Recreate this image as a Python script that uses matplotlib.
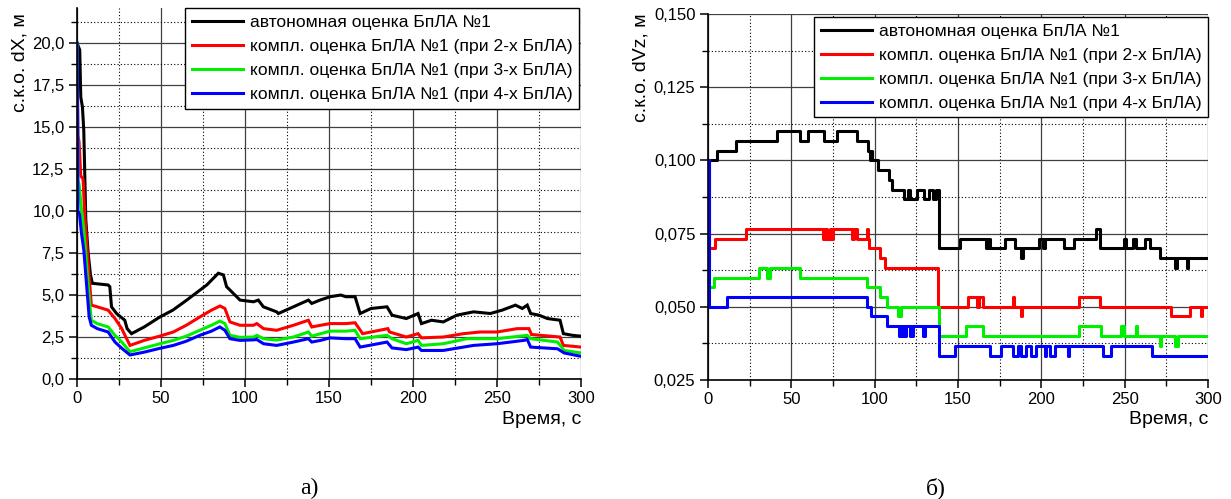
import matplotlib

matplotlib.use("Agg")
import matplotlib.pyplot as plt
from matplotlib.ticker import MultipleLocator, FuncFormatter

plt.rcParams["font.family"] = ["Liberation Sans", "DejaVu Sans"]

LABELS = [
    "автономная оценка БпЛА №1",
    "компл. оценка БпЛА №1 (при 2-х БпЛА)",
    "компл. оценка БпЛА №1 (при 3-х БпЛА)",
    "компл. оценка БпЛА №1 (при 4-х БпЛА)",
]
COLORS = ["#000000", "#ff0000", "#00ee00", "#0000ff"]

# --- panel a): с.к.о. dX (polylines read off the picture) --------------------
dx_black_t = [0, 1.6, 2.2, 3.2, 4.0, 5.2, 6.6, 8.0, 9.1, 18.5, 19.5, 20.5, 23.5, 28.4, 29.8,
              32.4, 40, 49.4, 57, 65.3, 77.2, 84.1, 87.1, 89, 93, 97, 105, 107.9, 110.9,
              118.8, 119.8, 128.8, 137.7, 139.7, 144.6, 150.6, 157, 160, 165.5, 168.5, 175,
              184.5, 187.5, 196, 203, 205, 211, 218, 226, 236, 246, 253, 261, 265, 268, 270,
              275, 280, 287.5, 289.5, 295, 300]
dx_black_v = [20.0, 19.6, 16.8, 16.2, 14.8, 9.5, 7.5, 6.2, 5.7, 5.6, 5.5, 4.3, 3.9, 3.5, 3.0,
              2.7, 3.1, 3.7, 4.1, 4.7, 5.6, 6.3, 6.2, 5.5, 5.1, 4.7, 4.6, 4.7, 4.3,
              4.0, 3.9, 4.3, 4.7, 4.5, 4.7, 4.9, 5.0, 4.9, 4.9, 3.9, 4.2,
              4.3, 3.8, 3.6, 3.9, 3.3, 3.5, 3.4, 3.8, 4.0, 3.9, 4.1, 4.4, 4.2, 4.4, 3.9,
              3.8, 3.6, 3.5, 2.7, 2.6, 2.55]

dx_red_t = [0, 0.6, 1.2, 2.2, 3.6, 4.6, 6.6, 8.5, 12, 18.5, 22.6, 26.6, 29, 31.5, 40, 49.4,
            57.3, 65, 73.2, 80, 85.1, 88, 91, 97, 105, 107, 111, 118.8, 128.8, 137.7, 139.7,
            145, 150.6, 160, 165.5, 170, 180, 185, 186, 196, 203, 205, 218, 230, 240, 250,
            262, 269, 270.5, 287.5, 289.5, 295, 300]
dx_red_v = [20, 14.5, 14.1, 12.1, 11.9, 9.7, 6.9, 4.4, 4.3, 4.1, 3.6, 3.0, 2.5, 2.0, 2.3, 2.56,
            2.8, 3.2, 3.7, 4.1, 4.35, 4.2, 3.4, 3.2, 3.2, 3.3, 3.0, 2.9, 3.2, 3.5, 3.1,
            3.2, 3.3, 3.3, 3.35, 2.7, 2.9, 3.0, 2.8, 2.5, 2.7, 2.45, 2.5, 2.7, 2.8, 2.8,
            3.0, 3.0, 2.65, 2.5, 2.0, 1.95, 1.9]

dx_green_t = [0, 0.6, 1.2, 2.6, 4, 5.6, 7.2, 8.5, 12, 18.5, 22.6, 26.6, 31.5, 40, 49.4, 57.3,
              65, 73, 80, 85, 88, 91, 97, 105, 107, 111, 118.8, 128.8, 137.7, 139.7, 145,
              150.6, 160, 165.5, 168.5, 184.5, 187.5, 196, 203, 205, 218, 232, 250, 268, 270,
              286, 290, 300]
dx_green_v = [20, 11.8, 11.6, 10.1, 8.9, 6.9, 4.9, 3.5, 3.3, 3.1, 2.6, 2.2, 1.63, 1.85, 2.1, 2.3,
              2.55, 2.9, 3.2, 3.45, 3.3, 2.6, 2.48, 2.5, 2.6, 2.4, 2.32, 2.5, 2.8, 2.55, 2.7,
              2.85, 2.85, 2.9, 2.4, 2.6, 2.4, 2.1, 2.3, 2.0, 2.1, 2.4, 2.4, 2.6, 2.4,
              2.2, 1.7, 1.55]

dx_blue_t = [0, 0.5, 1.5, 2.6, 4, 5.6, 7.2, 8.5, 12, 18.5, 22.6, 26.6, 31.5, 40, 49.4, 57.3,
             65, 73, 80, 85, 88, 91, 97, 105, 107, 111, 118.8, 128.8, 137.7, 139.7, 145,
             150.6, 160, 165.5, 168.5, 184.5, 187.5, 196, 203, 205, 218, 236, 250, 266, 268,
             270, 286, 290, 300]
dx_blue_v = [20, 10.0, 9.8, 8.7, 7.7, 5.7, 3.7, 3.2, 3.0, 2.8, 2.2, 1.83, 1.43, 1.6, 1.83, 2.0,
             2.25, 2.6, 2.85, 3.1, 2.9, 2.4, 2.3, 2.33, 2.35, 2.1, 2.0, 2.2, 2.4, 2.2, 2.3,
             2.45, 2.4, 2.4, 1.9, 2.2, 1.85, 1.75, 1.9, 1.7, 1.7, 2.0, 2.1, 2.3, 2.35,
             1.9, 1.8, 1.55, 1.35]

# --- panel б): с.к.о. dVz (step levels, value holds until next time) ---------
dvz_black_t = [0, 5.2, 16.8, 41.2, 55.2, 60.2, 69.6, 77.2, 89.2, 96.2, 97.0, 97.8, 98.6, 102.2,
               108.8, 110.2, 117.6, 120.0, 121.0, 125.2, 129.6, 132.4, 135.2, 137.0, 138.8,
               151.4, 167.0, 168.0, 169.0, 178.0, 184.0, 188.0, 188.8, 198.6, 201.0, 202.5,
               213.4, 219.4, 233.0, 235.4, 249.6, 251.0, 255.0, 257.0, 262.0, 265.0, 271.0,
               280.4, 281.2, 287.4, 288.2, 300]
dvz_black_v = [.1000, .1033, .1067, .1100, .1067, .1100, .1067, .1100, .1067, .1033, .1000,
               .1033, .1000, .0967, .0933, .0900, .0867, .0900, .0867, .0900, .0867, .0900,
               .0867, .0900, .0700, .0733, .0700, .0733, .0700, .0733, .0700, .0667, .0700,
               .0733, .0700, .0733, .0700, .0733, .0767, .0700, .0733, .0700, .0733, .0700,
               .0733, .0700, .0667, .0633, .0667, .0633, .0667, .0667]

dvz_red_t = [0, 0.4, 4.2, 22.8, 69.2, 70.5, 71.5, 73.0, 74.0, 75.2, 86.2, 87.6, 89.2, 95.2, 95.8,
             96.8, 103.2, 106.2, 138.2, 156.0, 161.4, 162.4, 165.0, 183.0, 183.6, 188.0, 188.6,
             222.6, 235.4, 277.6, 289.4, 296.0, 296.6, 300]
dvz_red_v = [.1000, .0700, .0733, .0767, .0733, .0767, .0733, .0767, .0733, .0767, .0733, .0767,
             .0733, .0767, .0733, .0700, .0667, .0633, .0500, .0533, .0500, .0533, .0500,
             .0533, .0500, .0467, .0500, .0533, .0500, .0467, .0500, .0467, .0500, .0500]

dvz_green_t = [0, 0.4, 3.6, 30.8, 35.2, 37.2, 55.2, 95.2, 103.2, 107.2, 114.2, 115.6, 138.8,
               154.6, 165.0, 222.6, 236.0, 247.6, 249.6, 256.6, 257.2, 271.0, 271.6, 280.0,
               282.0, 300]
dvz_green_v = [.1000, .0567, .0600, .0633, .0600, .0633, .0600, .0567, .0533, .0500, .0467,
               .0500, .0400, .0433, .0400, .0433, .0400, .0433, .0400, .0433, .0400, .0367,
               .0400, .0367, .0400, .0400]

dvz_blue_t = [0, 0.4, 11.2, 95.2, 97.6, 107.6, 114.8, 115.6, 116.4, 117.4, 118.0, 118.8, 121.2,
              122.0, 122.6, 123.2, 128.8, 130.2, 138.8, 148.0, 169.0, 176.0, 183.0, 186.0,
              188.0, 191.0, 194.0, 197.0, 202.0, 203.0, 205.4, 208.0, 216.0, 216.6, 237.0,
              242.0, 266.6, 300]
dvz_blue_v = [.1000, .0500, .0533, .0500, .0467, .0433, .0400, .0433, .0400, .0433, .0400,
              .0433, .0400, .0433, .0400, .0433, .0400, .0433, .0333, .0367, .0333, .0367,
              .0333, .0367, .0333, .0367, .0333, .0367, .0333, .0367, .0333, .0367, .0333,
              .0367, .0333, .0367, .0333, .0333]


def comma(fmt):
    return FuncFormatter(lambda v, _: (fmt % v).replace(".", ","))


def style_axes(ax, ymajor, yminor, yfmt):
    ax.set_xlim(0, 300)
    ax.xaxis.set_major_locator(MultipleLocator(50))
    ax.xaxis.set_minor_locator(MultipleLocator(25))
    ax.yaxis.set_major_locator(MultipleLocator(ymajor))
    ax.yaxis.set_minor_locator(MultipleLocator(yminor))
    ax.yaxis.set_major_formatter(comma(yfmt))
    ax.grid(which="major", color="#404040", lw=0.9, ls="-")
    ax.grid(which="minor", color="#000000", lw=0.8, ls=(0, (1, 2)))
    ax.set_axisbelow(True)
    for side in ("top", "right"):
        ax.spines[side].set_visible(False)
    for side in ("left", "bottom"):
        ax.spines[side].set_linewidth(1.2)
    ax.tick_params(which="major", direction="out", length=6, width=1.1, labelsize=12,
                   pad=3)
    ax.tick_params(which="minor", direction="out", length=4, width=1.0)


def add_legend(ax, anchor):
    leg = ax.legend(loc="upper right", bbox_to_anchor=anchor, fontsize=12.6,
                    frameon=True, fancybox=False, framealpha=1, edgecolor="black",
                    handlelength=2.9, handletextpad=0.4, labelspacing=0.5,
                    borderpad=0.38, borderaxespad=0)
    leg.get_frame().set_linewidth(1.0)


fig = plt.figure(figsize=(12.31, 4.99), dpi=100)
ax1 = fig.add_axes([0.0626, 0.2405, 0.4094, 0.7435])
ax2 = fig.add_axes([0.5751, 0.2385, 0.4062, 0.7335])

for t, v, c, lab in zip([dx_black_t, dx_red_t, dx_green_t, dx_blue_t],
                        [dx_black_v, dx_red_v, dx_green_v, dx_blue_v], COLORS, LABELS):
    ax1.plot(t, v, color=c, lw=2.2, label=lab, solid_joinstyle="miter")
style_axes(ax1, 2.5, 1.25, "%.1f")
ax1.set_ylim(0, 22.1)
add_legend(ax1, (0.996, 1.0))

for t, v, c, lab in zip([dvz_black_t, dvz_red_t, dvz_green_t, dvz_blue_t],
                        [dvz_black_v, dvz_red_v, dvz_green_v, dvz_blue_v], COLORS, LABELS):
    ax2.step(t, v, where="post", color=c, lw=2.2, label=lab)
style_axes(ax2, 0.025, 0.0125, "%.3f")
ax2.set_ylim(0.025, 0.150)
add_legend(ax2, (1.0, 0.992))

fig.text(20 / 1231, 1 - 13 / 499, "с.к.о. dX, м", rotation=90, ha="center", va="top",
         fontsize=14)
fig.text(641 / 1231, 1 - 13 / 499, "с.к.о. dVz, м", rotation=90, ha="center", va="top",
         fontsize=14)
fig.text(581 / 1231, 1 - 420 / 499, "Время, с", ha="right", va="center", fontsize=14)
fig.text(1208 / 1231, 1 - 420 / 499, "Время, с", ha="right", va="center", fontsize=14)
fig.text(309 / 1231, 1 - 488 / 499, "а)", ha="center", va="center", fontsize=17,
         family=["Liberation Serif", "DejaVu Serif"])
fig.text(936 / 1231, 1 - 488 / 499, "б)", ha="center", va="center", fontsize=17,
         family=["Liberation Serif", "DejaVu Serif"])

fig.savefig("out.png", dpi=100)
